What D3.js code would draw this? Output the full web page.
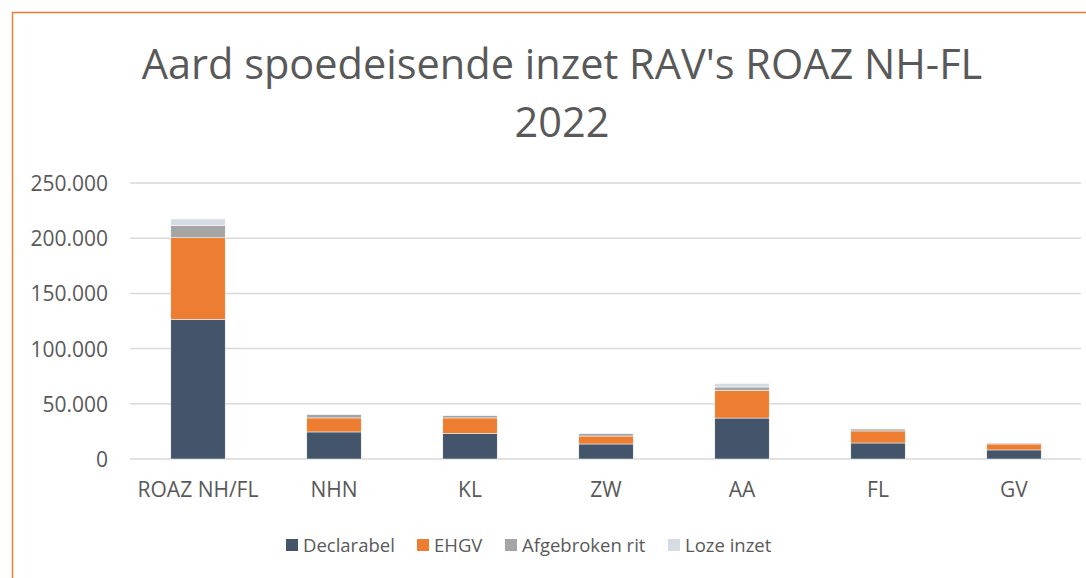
<!DOCTYPE html>
<html>
<head>
<meta charset="utf-8">
<script src="https://cdn.jsdelivr.net/npm/d3@7/dist/d3.min.js"></script>
<style>
  body { margin: 0; background: #fff; }
  text { font-family: "Open Sans", "Noto Sans", sans-serif; fill: #595959; }
</style>
</head>
<body>
<svg id="chart" width="1086" height="578"></svg>
<script>
// values (aantal inzetten)
var regios = ["ROAZ NH/FL", "NHN", "KL", "ZW", "AA", "FL", "GV"];
var declarabel = [126500, 24500, 23300, 13600, 37100, 14500, 8200];
var ehgv = [73900, 12700, 13900, 7200, 25100, 10900, 5400];
var afgebroken = [10900, 3100, 2200, 2200, 3000, 1800, 900];
var lozeInzet = [6100, 500, 500, 600, 3300, 500, 300];
var series = ["Declarabel", "EHGV", "Afgebroken rit", "Loze inzet"];
var kleuren = ["#44546a", "#ed7d31", "#a5a5a5", "#d6dce4"];
var yTicks = [0, 50000, 100000, 150000, 200000, 250000];

var svg = d3.select("#chart");
var width = 1086, height = 578;
var margin = { top: 183, bottom: 119, left: 130, right: 4 };

// orange border, only top and left are inside the picture
svg.append("rect")
  .attr("x", 12.5).attr("y", 12.5)
  .attr("width", width + 20).attr("height", height + 20)
  .style("fill", "none")
  .style("stroke", "#ed7d31")
  .style("stroke-width", 1.5);

svg.append("text")
  .attr("x", 562).attr("y", 79)
  .attr("text-anchor", "middle")
  .style("font-size", "41.5px")
  .text("Aard spoedeisende inzet RAV's ROAZ NH-FL");
svg.append("text")
  .attr("x", 562).attr("y", 137)
  .attr("text-anchor", "middle")
  .style("font-size", "41.5px")
  .text("2022");

var data = regios.map(function (r, i) {
  return {
    regio: r,
    "Declarabel": declarabel[i],
    "EHGV": ehgv[i],
    "Afgebroken rit": afgebroken[i],
    "Loze inzet": lozeInzet[i]
  };
});

var x = d3.scaleBand()
  .domain(regios)
  .range([margin.left, width - margin.right])
  .paddingInner(0.6)
  .paddingOuter(0.3);

var y = d3.scaleLinear()
  .domain([0, 250000])
  .range([height - margin.bottom, margin.top]);

var fmt = function (d) { return d3.format(",")(d).replace(/,/g, "."); };

// gridlines
svg.append("g")
  .selectAll("line")
  .data(yTicks)
  .enter().append("line")
  .attr("x1", margin.left).attr("x2", 1081)
  .attr("y1", function (d) { return y(d); })
  .attr("y2", function (d) { return y(d); })
  .style("stroke", "#d9d9d9")
  .style("stroke-width", 1.5);

// y labels
svg.append("g")
  .selectAll("text")
  .data(yTicks)
  .enter().append("text")
  .attr("x", 108)
  .attr("y", function (d) { return y(d) + 8; })
  .attr("text-anchor", "end")
  .style("font-size", "21px")
  .text(fmt);

var stack = d3.stack().keys(series);
var color = d3.scaleOrdinal().domain(series).range(kleuren);

svg.append("g")
  .selectAll("g")
  .data(stack(data))
  .enter().append("g")
  .style("fill", function (d) { return color(d.key); })
  .selectAll("rect")
  .data(function (d) { return d; })
  .enter().append("rect")
  .attr("x", function (d) { return x(d.data.regio); })
  .attr("width", x.bandwidth())
  .attr("y", function (d) { return y(d[1]); })
  .attr("height", function (d) { return y(d[0]) - y(d[1]); })
  .style("stroke", "#ffffff")
  .style("stroke-width", 0.5);

// x labels
svg.append("g")
  .selectAll("text")
  .data(regios)
  .enter().append("text")
  .attr("x", function (d) { return x(d) + x.bandwidth() / 2; })
  .attr("y", 497)
  .attr("text-anchor", "middle")
  .style("font-size", "21px")
  .text(function (d) { return d; });

// legend
var legendX = [286, 417, 505, 668];
var legend = svg.append("g")
  .selectAll("g")
  .data(series)
  .enter().append("g")
  .attr("transform", function (d, i) { return "translate(" + legendX[i] + ",539)"; });

legend.append("rect")
  .attr("width", 12).attr("height", 12)
  .style("fill", function (d) { return color(d); });

legend.append("text")
  .attr("x", 17).attr("y", 12.5)
  .style("font-size", "18.5px")
  .text(function (d) { return d; });
</script>
</body>
</html>
